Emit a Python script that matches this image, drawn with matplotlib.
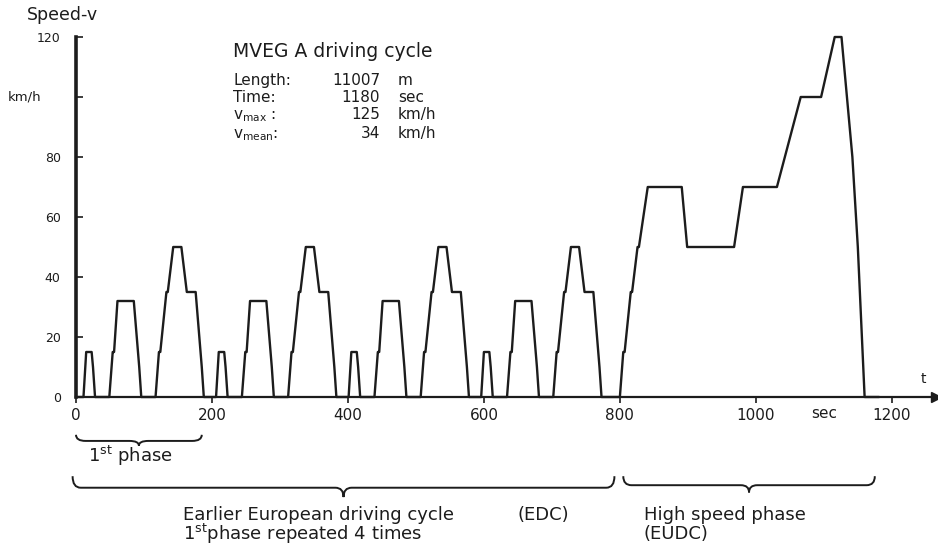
import numpy as np
import matplotlib
matplotlib.use("Agg")
import matplotlib.pyplot as plt
from matplotlib.path import Path
from matplotlib.patches import PathPatch
import matplotlib.transforms as mtransforms

# Urban phase (ECE-15), one repetition: time in s, speed in km/h
ece_time = [0, 11, 15, 23, 25, 28, 49, 54, 56, 61, 85, 93, 96, 117, 122,
            124, 133, 135, 143, 155, 163, 176, 185, 188, 195]
ece_speed = [0, 0, 15, 15, 10, 0, 0, 15, 15, 32, 32, 10, 0, 0, 15,
             15, 35, 35, 50, 50, 35, 35, 10, 0, 0]
ece_period = 195
ece_repeats = 4

# Extra-urban phase (EUDC), absolute time in s
eudc_time = [780, 800, 805, 807, 816, 818, 826, 828, 841, 891, 899, 968,
             981, 1031, 1066, 1096, 1116, 1126, 1142, 1150, 1160, 1180]
eudc_speed = [0, 0, 15, 15, 35, 35, 50, 50, 70, 70, 50, 50,
              70, 70, 100, 100, 120, 120, 80, 50, 0, 0]

x_ticks = [0, 200, 400, 600, 800, 1000, 1200]
y_ticks = [0, 20, 40, 60, 80, 100, 120]
y_tick_labels = ["0", "20", "40", "60", "80", "", "120"]

info_labels = ["Length:", "Time:", r"v$_{\mathregular{max}}$ :", r"v$_{\mathregular{mean}}$:"]
info_values = ["11007", "1180", "125", "34"]
info_units = ["m", "sec", "km/h", "km/h"]

# assemble the full cycle
t = []
v = []
for k in range(ece_repeats):
    t += [x + k * ece_period for x in ece_time]
    v += ece_speed
t += eudc_time
v += eudc_speed

plt.rcParams["font.family"] = ["DejaVu Sans"]
plt.rcParams["mathtext.default"] = "regular"

ink = "#1c1c1c"
plt.rcParams["text.color"] = ink
W, H = 938, 547
fig = plt.figure(figsize=(W / 100, H / 100), dpi=100)
ax = fig.add_axes([76 / W, 150 / H, 860 / W, 360 / H])

ax.plot(t, v, color=ink, lw=1.7, clip_on=False)

ax.set_xlim(0, 1265)
ax.set_ylim(0, 120)
ax.spines["top"].set_visible(False)
ax.spines["right"].set_visible(False)
ax.spines["left"].set_linewidth(2.6)
ax.spines["bottom"].set_linewidth(1.6)
for s in ("left", "bottom"):
    ax.spines[s].set_color(ink)

ax.set_xticks(x_ticks, [str(x) for x in x_ticks])
ax.set_yticks(y_ticks, y_tick_labels)
ax.tick_params(axis="x", direction="out", length=4, width=1.2, pad=4,
               labelsize=11, colors=ink)
ax.tick_params(axis="y", direction="in", length=5, width=1.2, pad=11,
               labelsize=9, colors=ink)

# arrow head on the time axis
ax.plot(1, 0, marker=">", color=ink, markersize=7,
        transform=ax.get_yaxis_transform(), clip_on=False)
ax.annotate("t", xy=(1, 0), xycoords=("axes fraction", "data"),
            xytext=(-9, 10), textcoords="offset points", fontsize=10, ha="center")
ax.text(1100, -0.058, "sec", transform=ax.get_xaxis_transform(),
        ha="center", va="baseline", fontsize=11)

yax = mtransforms.blended_transform_factory(ax.transAxes, ax.transData)
ax.text(-0.04, 100, "km/h", transform=yax, ha="right", va="center", fontsize=9.5)
fig.text(27 / W, 1 - 15 / H, "Speed-v", ha="left", va="center", fontsize=12.5)

# info block
fig.text(233 / W, 1 - 57 / H, "MVEG A driving cycle", fontsize=13.5, va="baseline")
rows_y = [85, 102, 119, 138]
for lab, val, unit, y in zip(info_labels, info_values, info_units, rows_y):
    fig.text(233 / W, 1 - y / H, lab, fontsize=11, va="baseline")
    fig.text(380 / W, 1 - y / H, val, fontsize=11, va="baseline", ha="right")
    fig.text(398 / W, 1 - y / H, unit, fontsize=11, va="baseline")


def brace(x0, x1, y_end, y_line, y_tip, w, color=ink):
    xc = (x0 + x1) / 2
    verts = [(x0, y_end), (x0, y_line), (x0 + w, y_line),
             (xc - w, y_line), (xc, y_line), (xc, y_tip),
             (xc, y_line), (xc + w, y_line),
             (x1 - w, y_line), (x1, y_line), (x1, y_end)]
    codes = [Path.MOVETO, Path.CURVE3, Path.CURVE3,
             Path.LINETO, Path.CURVE3, Path.CURVE3,
             Path.CURVE3, Path.CURVE3,
             Path.LINETO, Path.CURVE3, Path.CURVE3]
    patch = PathPatch(Path(verts, codes), fill=False, lw=1.4, ec=color,
                      transform=ax.get_xaxis_transform(), clip_on=False)
    ax.add_patch(patch)


xtr = ax.get_xaxis_transform()
brace(0, ece_period - 10, -0.105, -0.122, -0.135, 14)
ax.text(18, -0.164, r"1$^{\mathregular{st}}$ phase", transform=xtr,
        ha="left", va="center", fontsize=13)

brace(-5, ece_period * ece_repeats + 12, -0.22, -0.252, -0.278, 12)
brace(eudc_time[0] + 25, eudc_time[-1] - 5, -0.22, -0.245, -0.265, 12)

ax.text(157, -0.328, "Earlier European driving cycle", transform=xtr,
        ha="left", va="center", fontsize=13)
ax.text(650, -0.328, "(EDC)", transform=xtr, ha="left", va="center", fontsize=13)
ax.text(157, -0.381, r"1$^{\mathregular{st}}$phase repeated 4 times", transform=xtr,
        ha="left", va="center", fontsize=13)
ax.text(835, -0.328, "High speed phase", transform=xtr,
        ha="left", va="center", fontsize=13)
ax.text(835, -0.381, "(EUDC)", transform=xtr, ha="left", va="center", fontsize=13)

fig.savefig("out.png", dpi=100)
